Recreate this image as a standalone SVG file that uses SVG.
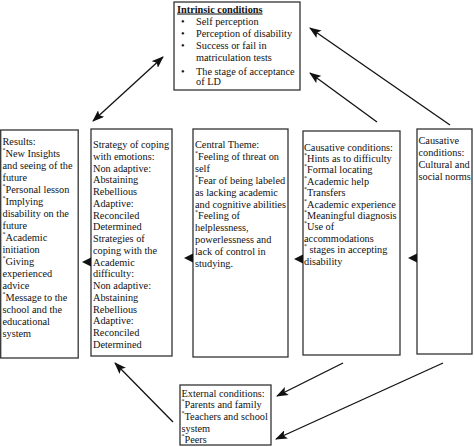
<svg xmlns="http://www.w3.org/2000/svg" width="474" height="447" viewBox="0 0 474 447">
<style>
.box{fill:#fff;stroke:#333;stroke-width:1.3}
text{font-family:"Liberation Serif","Times New Roman",serif;font-size:10.3px;fill:#111}
.t{font-weight:bold;text-decoration:underline}
.b{font-size:6px}
.con{stroke:#111;stroke-width:1.3;fill:none}
.head{fill:#111}
</style>
<defs>
<marker id="ah" viewBox="0 0 12 9" refX="11" refY="4.5" markerWidth="12" markerHeight="9" markerUnits="userSpaceOnUse" orient="auto-start-reverse">
<path d="M0,0 L12,4.5 L0,9 L2.5,4.5 z" fill="#111"/>
</marker>
</defs>
<rect width="474" height="447" fill="#fff"/>

<g id="intrinsic">
<rect class="box" x="174" y="2" width="126" height="88"/>
<text x="177" y="12.5" class="t">Intrinsic conditions</text>
<text x="181" y="25">•</text><text x="196" y="25">Self perception</text>
<text x="181" y="37">•</text><text x="196" y="37">Perception of disability</text>
<text x="181" y="49">•</text><text x="196" y="49">Success or fail in</text>
<text x="196" y="61">matriculation tests</text>
<text x="181" y="75">•</text><text x="196" y="75">The stage of acceptance</text>
<text x="196" y="85">of LD</text>
</g>

<g id="results">
<rect class="box" x="0.7" y="130" width="77.5" height="228"/>
<text x="2.5" y="145">Results:</text>
<text x="2.5" y="157"><tspan class="b" dy="-5">*</tspan><tspan dy="5">New Insights</tspan></text>
<text x="2.5" y="169">and seeing of the</text>
<text x="2.5" y="181">future</text>
<text x="2.5" y="193"><tspan class="b" dy="-5">*</tspan><tspan dy="5">Personal lesson</tspan></text>
<text x="2.5" y="205"><tspan class="b" dy="-5">*</tspan><tspan dy="5">Implying</tspan></text>
<text x="2.5" y="217">disability on the</text>
<text x="2.5" y="229">future</text>
<text x="2.5" y="241"><tspan class="b" dy="-5">*</tspan><tspan dy="5">Academic</tspan></text>
<text x="2.5" y="253">initiation</text>
<text x="2.5" y="265"><tspan class="b" dy="-5">*</tspan><tspan dy="5">Giving</tspan></text>
<text x="2.5" y="277">experienced</text>
<text x="2.5" y="289">advice</text>
<text x="2.5" y="301"><tspan class="b" dy="-5">*</tspan><tspan dy="5">Message to the</tspan></text>
<text x="2.5" y="313">school and the</text>
<text x="2.5" y="325">educational</text>
<text x="2.5" y="337">system</text>
</g>

<g id="strategy">
<rect class="box" x="91" y="129" width="81" height="227"/>
<text x="93" y="148">Strategy of coping</text>
<text x="93" y="159.8">with emotions:</text>
<text x="93" y="171.5">Non adaptive:</text>
<text x="93" y="183.3">Abstaining</text>
<text x="93" y="195">Rebellious</text>
<text x="93" y="206.8">Adaptive:</text>
<text x="93" y="218.6">Reconciled</text>
<text x="93" y="230.3">Determined</text>
<text x="93" y="242.1">Strategies of</text>
<text x="93" y="253.8">coping with the</text>
<text x="93" y="265.6">Academic</text>
<text x="93" y="277.4">difficulty:</text>
<text x="93" y="289.1">Non adaptive:</text>
<text x="93" y="300.9">Abstaining</text>
<text x="93" y="312.6">Rebellious</text>
<text x="93" y="324.4">Adaptive:</text>
<text x="93" y="336.2">Reconciled</text>
<text x="93" y="347.9">Determined</text>
</g>

<g id="central">
<rect class="box" x="193" y="129" width="95" height="228"/>
<text x="195" y="148">Central Theme:</text>
<text x="195" y="159.9"><tspan class="b" dy="-5">*</tspan><tspan dy="5">Feeling of threat on</tspan></text>
<text x="195" y="171.8">self</text>
<text x="195" y="183.7"><tspan class="b" dy="-5">*</tspan><tspan dy="5">Fear of being labeled</tspan></text>
<text x="195" y="195.6">as lacking academic</text>
<text x="195" y="207.5">and cognitive abilities</text>
<text x="195" y="219.4"><tspan class="b" dy="-5">*</tspan><tspan dy="5">Feeling of</tspan></text>
<text x="195" y="231.3">helplessness,</text>
<text x="195" y="243.2">powerlessness and</text>
<text x="195" y="255.1">lack of control in</text>
<text x="195" y="267">studying.</text>
</g>

<g id="causative">
<rect class="box" x="303" y="131" width="97" height="224"/>
<text x="304" y="150.5">Causative conditions:</text>
<text x="304" y="161.9"><tspan class="b" dy="-5">*</tspan><tspan dy="5">Hints as to difficulty</tspan></text>
<text x="304" y="173.3"><tspan class="b" dy="-5">*</tspan><tspan dy="5">Formal locating</tspan></text>
<text x="304" y="184.7"><tspan class="b" dy="-5">*</tspan><tspan dy="5">Academic help</tspan></text>
<text x="304" y="196.1"><tspan class="b" dy="-5">*</tspan><tspan dy="5">Transfers</tspan></text>
<text x="304" y="207.5"><tspan class="b" dy="-5">*</tspan><tspan dy="5">Academic experience</tspan></text>
<text x="304" y="218.9"><tspan class="b" dy="-5">*</tspan><tspan dy="5">Meaningful diagnosis</tspan></text>
<text x="304" y="230.3"><tspan class="b" dy="-5">*</tspan><tspan dy="5">Use of</tspan></text>
<text x="304" y="241.7">accommodations</text>
<text x="304" y="253.1"><tspan class="b" dy="-5">*</tspan><tspan dy="5"> stages in accepting</tspan></text>
<text x="304" y="264.5">disability</text>
</g>

<g id="cultural">
<rect class="box" x="417" y="129" width="55" height="225"/>
<text x="418.5" y="144">Causative</text>
<text x="418.5" y="156">conditions:</text>
<text x="418.5" y="168">Cultural and</text>
<text x="418.5" y="180">social norms</text>
</g>

<g id="external">
<rect class="box" x="180" y="385" width="91" height="60"/>
<text x="181.5" y="397">External conditions:</text>
<text x="181.5" y="408"><tspan class="b" dy="-5">*</tspan><tspan dy="5">Parents and family</tspan></text>
<text x="181.5" y="419.5"><tspan class="b" dy="-5">*</tspan><tspan dy="5">Teachers and school</tspan></text>
<text x="181.5" y="431.5">system</text>
<text x="181.5" y="443"><tspan class="b" dy="-5">*</tspan><tspan dy="5">Peers</tspan></text>
</g>

<g id="connectors">
<line class="con" x1="93" y1="121" x2="163" y2="57" marker-start="url(#ah)" marker-end="url(#ah)"/>
<line class="con" x1="450" y1="125" x2="310" y2="28" marker-end="url(#ah)"/>
<line class="con" x1="377" y1="122" x2="310" y2="73" marker-end="url(#ah)"/>
<line class="con" x1="343" y1="363" x2="277" y2="396" marker-end="url(#ah)"/>
<line class="con" x1="443" y1="363" x2="276" y2="439" marker-end="url(#ah)"/>
<line class="con" x1="173" y1="422" x2="115" y2="363" marker-end="url(#ah)"/>
<polygon class="head" points="82,262 91,257.5 91,266.5"/>
<polygon class="head" points="184,258 193,253.5 193,262.5"/>
<polygon class="head" points="294,259 303,254.5 303,263.5"/>
<polygon class="head" points="408,258 417,253.5 417,262.5"/>
</g>
</svg>
